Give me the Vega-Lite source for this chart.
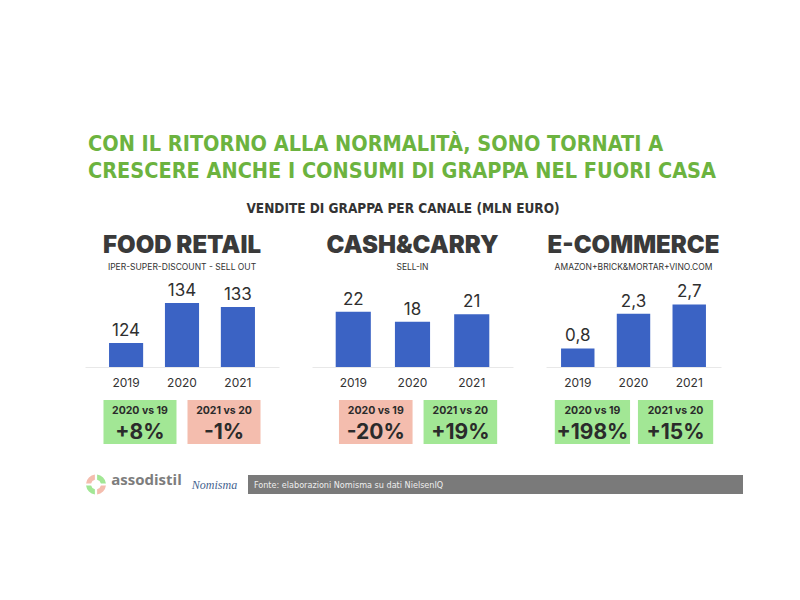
{
  "$schema": "https://vega.github.io/schema/vega-lite/v6.json",
  "background": "white",
  "padding": {"left": 85, "top": 133, "right": 5, "bottom": 5},
  "config": {
    "locale": {"number": {"decimal": ",", "thousands": ".", "grouping": [3], "currency": ["€", ""]}},
    "view": {"stroke": null}
  },
  "datasets": {
    "food": [{"year": "2019", "value": 124}, {"year": "2020", "value": 134}, {"year": "2021", "value": 133}],
    "cash": [{"year": "2019", "value": 22}, {"year": "2020", "value": 18}, {"year": "2021", "value": 21}],
    "ecom": [{"year": "2019", "value": 0.8}, {"year": "2020", "value": 2.3}, {"year": "2021", "value": 2.7}],
    "foodCmp": [{"comp": "2020 vs 19", "pct": "+8%", "dir": "up"}, {"comp": "2021 vs 20", "pct": "-1%", "dir": "down"}],
    "cashCmp": [{"comp": "2020 vs 19", "pct": "-20%", "dir": "down"}, {"comp": "2021 vs 20", "pct": "+19%", "dir": "up"}],
    "ecomCmp": [{"comp": "2020 vs 19", "pct": "+198%", "dir": "up"}, {"comp": "2021 vs 20", "pct": "+15%", "dir": "up"}]
  },
  "title": {
    "text": ["CON IL RITORNO ALLA NORMALITÀ, SONO TORNATI A", "CRESCERE ANCHE I CONSUMI DI GRAPPA NEL FUORI CASA"],
    "anchor": "start", "dx": 3,
    "font": "DejaVu Sans Condensed, sans-serif",
    "fontSize": 21.5, "fontWeight": "bold", "color": "#6cb33f", "lineHeight": 27, "offset": 20
  },
  "spacing": 28,
  "vconcat": [
    {
      "title": {
        "text": "VENDITE DI GRAPPA PER CANALE (MLN EURO)",
        "anchor": "middle",
        "font": "DejaVu Sans Condensed, sans-serif",
        "fontSize": 13.5, "fontWeight": "bold", "color": "#333333", "offset": 18
      },
      "spacing": 33,
      "hconcat": [
        {
          "spacing": 12,
          "vconcat": [
            {
              "width": 194, "height": 88,
              "data": {"name": "food"},
              "title": {"text": "FOOD RETAIL", "subtitle": "IPER-SUPER-DISCOUNT - SELL OUT", "anchor": "middle", "font": "Inter", "fontSize": 24, "fontWeight": 900, "color": "#3a3a3a", "subtitleFont": "Inter", "subtitleFontSize": 8.5, "subtitleColor": "#333333", "subtitlePadding": 5, "offset": 8},
              "encoding": {
                "x": {"field": "year", "type": "ordinal", "axis": {"title": null, "ticks": false, "labelAngle": 0, "labelFont": "Inter", "labelFontSize": 12, "labelColor": "#333333", "labelPadding": 10, "domainColor": "#e8e8e8"}, "scale": {"paddingInner": 0.39, "paddingOuter": 0.43}},
                "y": {"field": "value", "type": "quantitative", "axis": null, "scale": {"domain": [118, 140], "zero": false}}
              },
              "layer": [
                {"mark": {"type": "bar", "color": "#3b63c4", "clip": true}},
                {"mark": {"type": "text", "baseline": "alphabetic", "dy": -7, "font": "Inter", "fontSize": 17, "color": "#2f2f2f"}, "encoding": {"text": {"field": "value", "type": "quantitative", "format": "d"}}}
              ]
            },
            {
              "width": 194, "height": 44,
              "data": {"name": "foodCmp"},
              "layer": [
                {"mark": {"type": "rect"}, "encoding": {
                  "x": {"field": "comp", "type": "nominal", "sort": null, "axis": null, "scale": {"paddingInner": 0.131, "paddingOuter": 0.22}},
                  "color": {"field": "dir", "type": "nominal", "legend": null, "scale": {"domain": ["up", "down"], "range": ["#a2e795", "#f4bdae"]}}}},
                {"transform": [{"fold": ["comp", "pct"], "as": ["part", "label"]}],
                 "mark": {"type": "text", "font": "Inter", "fontWeight": "bold", "color": "#2b2b2b", "baseline": "middle"},
                 "encoding": {
                  "x": {"field": "comp", "type": "nominal", "sort": null, "axis": null, "scale": {"paddingInner": 0.131, "paddingOuter": 0.22}},
                  "y": {"field": "part", "type": "nominal", "axis": null, "scale": {"domain": ["comp", "pct"], "paddingInner": 0, "paddingOuter": 0}},
                  "size": {"field": "part", "type": "nominal", "legend": null, "scale": {"type": "ordinal", "domain": ["comp", "pct"], "range": [10.5, 21]}},
                  "text": {"field": "label"}}}
              ]
            }
          ]
        },
        {
          "spacing": 12,
          "vconcat": [
            {
              "width": 201, "height": 88,
              "data": {"name": "cash"},
              "title": {"text": "CASH&CARRY", "subtitle": "SELL-IN", "anchor": "middle", "font": "Inter", "fontSize": 24, "fontWeight": 900, "color": "#3a3a3a", "subtitleFont": "Inter", "subtitleFontSize": 8.5, "subtitleColor": "#333333", "subtitlePadding": 5, "offset": 8},
              "encoding": {
                "x": {"field": "year", "type": "ordinal", "axis": {"title": null, "ticks": false, "labelAngle": 0, "labelFont": "Inter", "labelFontSize": 12, "labelColor": "#333333", "labelPadding": 10, "domainColor": "#e8e8e8"}, "scale": {"paddingInner": 0.407, "paddingOuter": 0.4}},
                "y": {"field": "value", "type": "quantitative", "axis": null, "scale": {"domain": [0, 35]}}
              },
              "layer": [
                {"mark": {"type": "bar", "color": "#3b63c4"}},
                {"mark": {"type": "text", "baseline": "alphabetic", "dy": -7, "font": "Inter", "fontSize": 17, "color": "#2f2f2f"}, "encoding": {"text": {"field": "value", "type": "quantitative", "format": "d"}}}
              ]
            },
            {
              "width": 201, "height": 44,
              "data": {"name": "cashCmp"},
              "layer": [
                {"mark": {"type": "rect"}, "encoding": {
                  "x": {"field": "comp", "type": "nominal", "sort": null, "axis": null, "scale": {"paddingInner": 0.13, "paddingOuter": 0.253, "align": 0.63}},
                  "color": {"field": "dir", "type": "nominal", "legend": null, "scale": {"domain": ["up", "down"], "range": ["#a2e795", "#f4bdae"]}}}},
                {"transform": [{"fold": ["comp", "pct"], "as": ["part", "label"]}],
                 "mark": {"type": "text", "font": "Inter", "fontWeight": "bold", "color": "#2b2b2b", "baseline": "middle"},
                 "encoding": {
                  "x": {"field": "comp", "type": "nominal", "sort": null, "axis": null, "scale": {"paddingInner": 0.13, "paddingOuter": 0.253, "align": 0.63}},
                  "y": {"field": "part", "type": "nominal", "axis": null, "scale": {"domain": ["comp", "pct"], "paddingInner": 0, "paddingOuter": 0}},
                  "size": {"field": "part", "type": "nominal", "legend": null, "scale": {"type": "ordinal", "domain": ["comp", "pct"], "range": [10.5, 21]}},
                  "text": {"field": "label"}}}
              ]
            }
          ]
        },
        {
          "spacing": 12,
          "vconcat": [
            {
              "width": 175, "height": 88,
              "data": {"name": "ecom"},
              "title": {"text": "E-COMMERCE", "subtitle": "AMAZON+BRICK&MORTAR+VINO.COM", "anchor": "middle", "font": "Inter", "fontSize": 24, "fontWeight": 900, "color": "#3a3a3a", "subtitleFont": "Inter", "subtitleFontSize": 8.5, "subtitleColor": "#333333", "subtitlePadding": 5, "offset": 8},
              "encoding": {
                "x": {"field": "year", "type": "ordinal", "axis": {"title": null, "ticks": false, "labelAngle": 0, "labelFont": "Inter", "labelFontSize": 12, "labelColor": "#333333", "labelPadding": 10, "domainColor": "#e8e8e8"}, "scale": {"paddingInner": 0.4, "paddingOuter": 0.27}},
                "y": {"field": "value", "type": "quantitative", "axis": null, "scale": {"domain": [0, 3.8]}}
              },
              "layer": [
                {"mark": {"type": "bar", "color": "#3b63c4"}},
                {"mark": {"type": "text", "baseline": "alphabetic", "dy": -7, "font": "Inter", "fontSize": 17, "color": "#2f2f2f"}, "encoding": {"text": {"field": "value", "type": "quantitative", "format": ".1f"}}}
              ]
            },
            {
              "width": 175, "height": 44,
              "data": {"name": "ecomCmp"},
              "layer": [
                {"mark": {"type": "rect"}, "encoding": {
                  "x": {"field": "comp", "type": "nominal", "sort": null, "axis": null, "scale": {"paddingInner": 0.095, "paddingOuter": 0.1, "align": 0.53}},
                  "color": {"field": "dir", "type": "nominal", "legend": null, "scale": {"domain": ["up", "down"], "range": ["#a2e795", "#f4bdae"]}}}},
                {"transform": [{"fold": ["comp", "pct"], "as": ["part", "label"]}],
                 "mark": {"type": "text", "font": "Inter", "fontWeight": "bold", "color": "#2b2b2b", "baseline": "middle"},
                 "encoding": {
                  "x": {"field": "comp", "type": "nominal", "sort": null, "axis": null, "scale": {"paddingInner": 0.095, "paddingOuter": 0.1, "align": 0.53}},
                  "y": {"field": "part", "type": "nominal", "axis": null, "scale": {"domain": ["comp", "pct"], "paddingInner": 0, "paddingOuter": 0}},
                  "size": {"field": "part", "type": "nominal", "legend": null, "scale": {"type": "ordinal", "domain": ["comp", "pct"], "range": [10.5, 21]}},
                  "text": {"field": "label"}}}
              ]
            }
          ]
        }
      ]
    },
    {
      "bounds": "flush",
      "spacing": 5,
      "hconcat": [
        {
          "width": 22, "height": 19,
          "data": {"values": [{"part": "a", "share": 1}, {"part": "b", "share": 1}, {"part": "c", "share": 1}, {"part": "d", "share": 1}]},
          "mark": {"type": "arc", "outerRadius": 10, "innerRadius": 5, "padAngle": 0.2},
          "encoding": {
            "theta": {"field": "share", "type": "quantitative", "stack": true},
            "color": {"field": "part", "type": "nominal", "legend": null, "scale": {"domain": ["a", "b", "c", "d"], "range": ["#f3b41b", "#5cb648", "#2aa5dd", "#e63c2e"]}}
          }
        },
        {
          "width": 69, "height": 19,
          "data": {"values": [{"name": "assodistil"}]},
          "mark": {"type": "text", "font": "Open Sans", "fontSize": 15, "fontWeight": "bold", "color": "#7d7d7d", "baseline": "alphabetic"},
          "encoding": {"text": {"field": "name"}}
        },
        {
          "width": 57, "height": 19,
          "data": {"values": [{"name": "Nomisma"}]},
          "mark": {"type": "text", "font": "Liberation Serif", "fontStyle": "italic", "fontSize": 12, "color": "#44628f", "baseline": "middle"},
          "encoding": {"text": {"field": "name"}}
        },
        {
          "width": 495, "height": 19,
          "view": {"fill": "#7a7a7a", "stroke": null},
          "data": {"values": [{"src": "Fonte: elaborazioni Nomisma su dati NielsenIQ"}]},
          "mark": {"type": "text", "align": "left", "baseline": "middle", "font": "DejaVu Sans Condensed, sans-serif", "fontSize": 9, "color": "#eeeeee"},
          "encoding": {
            "x": {"field": "src", "type": "nominal", "axis": null, "scale": {"type": "point", "padding": 0, "align": 0.012}},
            "text": {"field": "src"}
          }
        }
      ]
    }
  ]
}
